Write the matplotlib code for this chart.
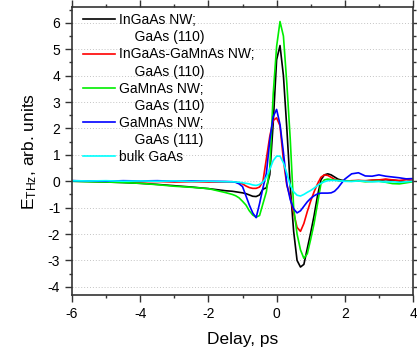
import matplotlib
matplotlib.use("Agg")
import matplotlib.pyplot as plt
from matplotlib.lines import Line2D
from matplotlib.ticker import MultipleLocator

plt.rcParams['font.family'] = ['Liberation Sans', 'DejaVu Sans']
plt.rcParams['mathtext.default'] = 'regular'
plt.rcParams['axes.unicode_minus'] = False

# delay axis, ps
delay = [-6, -5.5, -5, -4.5, -4, -3.5, -3, -2.5, -2, -1.5,
         -1.3, -1.2, -1.1, -1.0, -0.9, -0.8, -0.7, -0.6, -0.5, -0.4,
         -0.3, -0.2, -0.1, 0.0, 0.1, 0.2, 0.3, 0.4, 0.5, 0.6,
         0.7, 0.8, 0.9, 1.0, 1.1, 1.2, 1.3, 1.4, 1.5, 1.6,
         1.7, 1.8, 1.9, 2.0, 2.2, 2.4, 2.6, 2.8, 3.0, 3.2,
         3.4, 3.6, 3.8, 4.0]

ingaas_110 = [0.00, -0.01, -0.03, -0.05, -0.08, -0.12, -0.17, -0.22, -0.28, -0.36,
              -0.38, -0.40, -0.42, -0.44, -0.47, -0.52, -0.57, -0.58, -0.52, -0.30,
              -0.25, 0.25, 2.2, 4.6, 5.14, 4.0, 2.0, -0.2, -1.9, -3.0,
              -3.25, -3.15, -2.55, -1.95, -1.3, -0.55, 0.05, 0.24, 0.28, 0.24,
              0.16, 0.08, 0.04, 0.02, 0.01, 0.02, 0.01, 0.03, 0.04, 0.06,
              0.04, 0.01, -0.02, 0.02]

ingaas_gamnas_110 = [0.02, 0.00, -0.01, 0.00, -0.02, -0.01, -0.03, -0.02, -0.03, -0.03,
                     -0.02, -0.04, -0.06, -0.10, -0.18, -0.24, -0.27, -0.27, -0.22, 0.0,
                     0.85, 1.7, 2.3, 2.4, 2.1, 0.8, -0.15, -0.6, -1.2, -1.75,
                     -1.9, -1.6, -1.15, -0.75, -0.4, -0.1, 0.15, 0.24, 0.22, 0.15,
                     0.07, 0.03, 0.01, 0.00, 0.02, 0.03, 0.02, 0.04, 0.05, 0.08,
                     0.05, 0.03, 0.06, 0.04]

gamnas_110 = [0.00, -0.02, -0.03, -0.05, -0.08, -0.13, -0.19, -0.23, -0.28, -0.43,
              -0.50, -0.55, -0.63, -0.76, -0.90, -1.12, -1.28, -1.36, -1.30, -0.85,
              -0.4, 0.5, 3.3, 5.1, 6.05, 5.5, 3.7, 1.6, -1.0, -2.0,
              -2.6, -2.92, -2.75, -2.2, -1.6, -0.85, -0.1, 0.05, 0.08, 0.06,
              0.04, 0.03, 0.02, 0.00, 0.00, 0.01, -0.02, -0.01, 0.00, -0.04,
              -0.09, -0.10, -0.06, -0.02]

gamnas_111 = [0.02, 0.01, 0.00, 0.02, 0.01, 0.02, 0.00, 0.01, 0.00, -0.01,
              -0.02, -0.04, -0.10, -0.20, -0.55, -0.90, -1.20, -1.38, -0.85, -0.25,
              0.3, 1.55, 2.45, 2.72, 2.15, 1.1, -0.1, -0.7, -1.05, -1.2,
              -1.12, -0.95, -0.78, -0.65, -0.55, -0.48, -0.45, -0.45, -0.45, -0.44,
              -0.38, -0.25, -0.08, 0.08, 0.28, 0.32, 0.20, 0.19, 0.24, 0.19,
              0.16, 0.13, 0.09, 0.10]

bulk_gaas = [0.02, 0.01, 0.02, 0.00, 0.01, 0.00, 0.01, -0.01, 0.00, -0.02,
             -0.02, -0.03, -0.04, -0.06, -0.08, -0.10, -0.14, -0.16, -0.12, -0.03,
             0.15, 0.45, 0.78, 0.95, 0.95, 0.7, 0.3, -0.15, -0.4, -0.53,
             -0.56, -0.50, -0.42, -0.35, -0.26, -0.16, -0.08, -0.02, 0.02, 0.03,
             0.03, 0.02, 0.01, 0.00, -0.01, 0.01, 0.00, -0.02, -0.01, -0.03,
             -0.02, -0.04, -0.02, 0.00]

series = [ingaas_110, ingaas_gamnas_110, gamnas_110, gamnas_111, bulk_gaas]
colors = ['black', 'red', '#00ee00', 'blue', 'cyan']
labels = [('InGaAs NW;', '    GaAs (110)'),
          ('InGaAs-GaMnAs NW;', '    GaAs (110)'),
          ('GaMnAs NW;', '    GaAs (110)'),
          ('GaMnAs NW;', '    GaAs (111)'),
          ('bulk GaAs', None)]

fig = plt.figure(figsize=(4.17, 3.47), dpi=100)
ax = fig.add_axes([72 / 417, 52 / 347, 341 / 417, 288 / 347])

for ys, c in zip(series, colors):
    ax.plot(delay, ys, color=c, lw=1.2)

ax.set_xlim(-6, 4)
ax.set_ylim(-4.31, 6.6)
ax.xaxis.set_major_locator(MultipleLocator(2))
ax.xaxis.set_minor_locator(MultipleLocator(1))
ax.yaxis.set_major_locator(MultipleLocator(1))
ax.yaxis.set_minor_locator(MultipleLocator(0.5))
ax.tick_params(which='both', direction='out', top=True, right=True,
               labelsize=10, width=1, color='#333333')
ax.tick_params(which='major', length=5)
ax.tick_params(which='minor', length=2.5)
for sp in ax.spines.values():
    sp.set_linewidth(1.2)
    sp.set_color('#333333')

ax.grid(axis='y', which='major', color='#c4c4c4', linestyle=(0, (1, 2)), lw=0.7)
ax.set_axisbelow(True)

ax.set_xlabel('Delay, ps', fontsize=12.5, labelpad=8)
ax.set_ylabel('E$_{THz}$, arb. units', fontsize=12.5, labelpad=6)

# legend: one row per text line, blank handle for the second line
handles = []
texts = []
for c, (l1, l2) in zip(colors, labels):
    handles.append(Line2D([], [], color=c, lw=1.2))
    texts.append(l1)
    if l2:
        handles.append(Line2D([], [], color='none'))
        texts.append(l2)
ax.legend(handles, texts, loc='upper left', bbox_to_anchor=(0.032, 0.978),
          frameon=False, fontsize=10, handlelength=2.3, handletextpad=0.3,
          labelspacing=0.22, borderpad=0, borderaxespad=0)

fig.savefig('out.png', dpi=100)
